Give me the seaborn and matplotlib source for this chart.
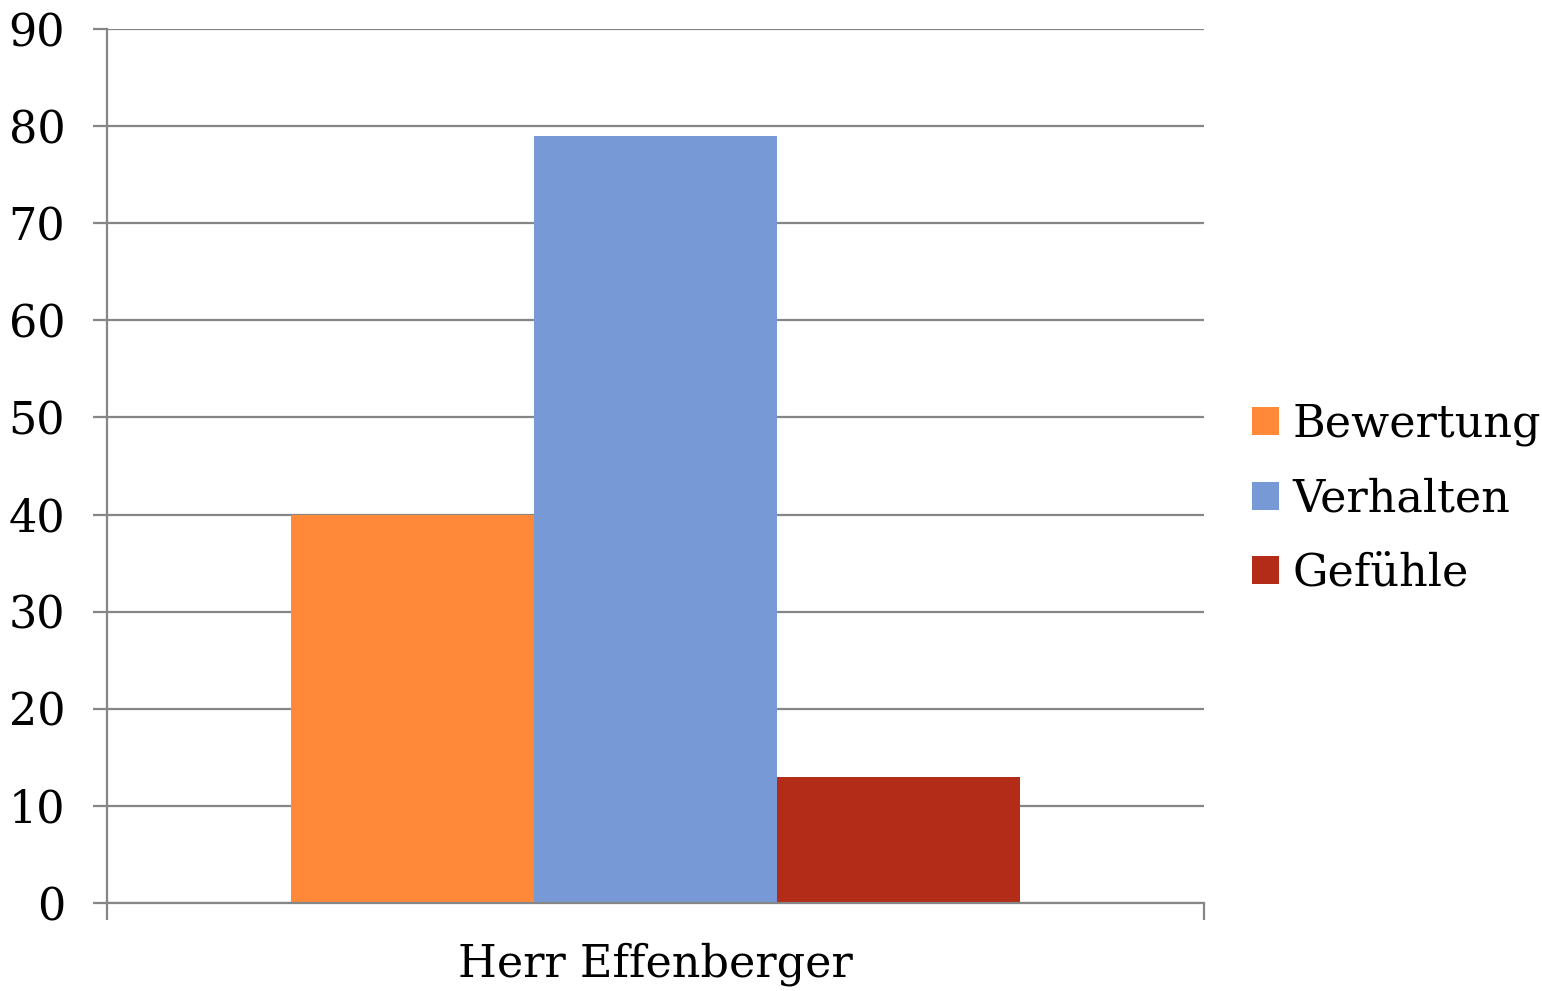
import matplotlib
matplotlib.use("Agg")
import matplotlib.pyplot as plt
import seaborn as sns
import pandas as pd
from matplotlib.patches import Patch

# Data
categories = ["Herr Effenberger"]
series = ["Bewertung", "Verhalten", "Gefühle"]
values = [40, 79, 13]
colors = ["#FF8939", "#779AD7", "#B32C18"]
y_ticks = [0, 10, 20, 30, 40, 50, 60, 70, 80, 90]

df = pd.DataFrame({
    "Person": categories * len(series),
    "Kategorie": series,
    "Wert": values,
})

sns.set_theme(style="white")
plt.rcParams["font.family"] = ["DejaVu Serif"]
plt.rcParams["text.color"] = "black"

grey = "#868686"
fig = plt.figure(figsize=(15.42, 9.91), dpi=100)
ax = fig.add_axes([0.0694, 0.0888, 0.7114, 0.8819])

sns.barplot(data=df, x="Person", y="Wert", hue="Kategorie",
            hue_order=series, palette=colors, width=0.665, gap=0,
            saturation=1, linewidth=0, ax=ax, legend=False, zorder=2)

ax.set_xlim(-0.5, 0.5)
ax.set_ylim(0, 90)
ax.set_yticks(y_ticks)
ax.set_yticklabels([str(t) for t in y_ticks], fontsize=32)
ax.yaxis.grid(True, color=grey, linewidth=1.6, zorder=0)
ax.set_axisbelow(True)
ax.set_xlabel("")
ax.set_ylabel("")

for side in ["top", "right"]:
    ax.spines[side].set_visible(False)
for side in ["left", "bottom"]:
    ax.spines[side].set_color(grey)
    ax.spines[side].set_linewidth(1.6)
    ax.spines[side].set_zorder(3)

ax.tick_params(axis="y", which="major", direction="out", length=10,
               width=1.6, color=grey, pad=20, left=True, labelcolor="black")
ax.tick_params(axis="x", which="major", length=0, pad=28,
               labelsize=32, labelcolor="black")
ax.set_xticks([-0.5, 0.5], minor=True)
ax.tick_params(axis="x", which="minor", direction="out", length=12,
               width=1.6, color=grey, bottom=True)

handles = [Patch(facecolor=c, edgecolor="none", label=s) for s, c in zip(series, colors)]
fig.legend(handles=handles, loc="center left", bbox_to_anchor=(0.786, 0.497),
           frameon=False, fontsize=32, handlelength=0.6, handleheight=0.6,
           handletextpad=0.3, labelspacing=0.7, labelcolor="black")

fig.savefig("out.png", dpi=100)
